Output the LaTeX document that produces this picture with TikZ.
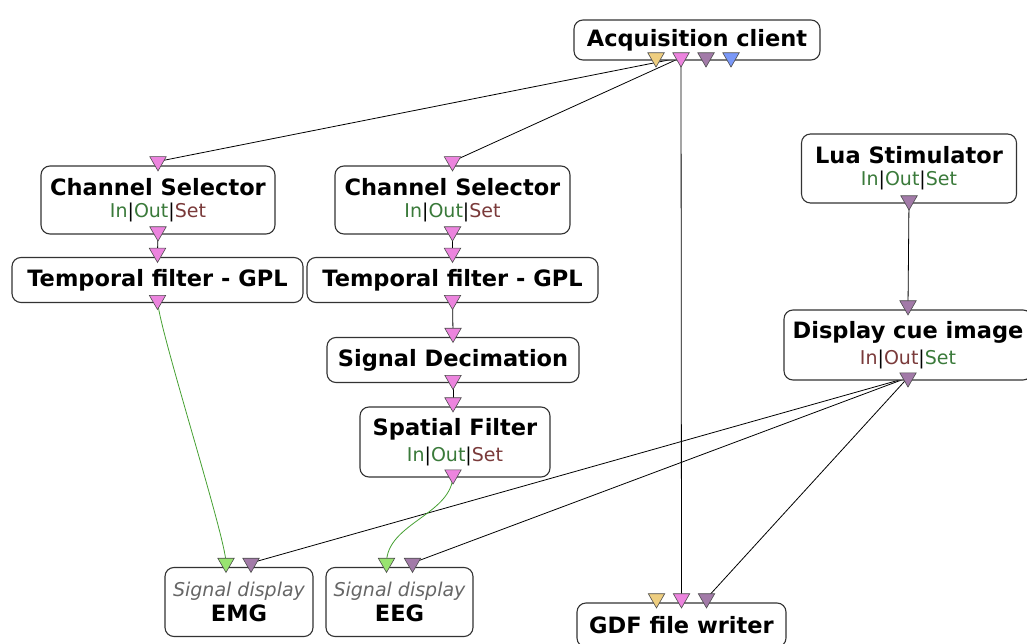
\documentclass[tikz,border=0pt]{standalone}
\usepackage{fontspec}
\setmainfont{DejaVu Sans}
\usepackage{xcolor}
\usetikzlibrary{shapes.geometric,positioning,backgrounds}

\definecolor{portpink}{RGB}{236,132,222}
\definecolor{portpurple}{RGB}{162,122,168}
\definecolor{portyellow}{RGB}{238,206,128}
\definecolor{portblue}{RGB}{122,152,248}
\definecolor{portgreen}{RGB}{152,228,112}
\definecolor{iogreen}{RGB}{58,122,58}
\definecolor{iored}{RGB}{122,58,58}
\definecolor{linkgreen}{RGB}{70,160,50}

\newcommand{\boxtitle}{\fontsize{22.5}{26}\selectfont\bfseries}
\newcommand{\boxsub}{\fontsize{19}{22}\selectfont\mdseries}
\newcommand{\gr}[1]{\textcolor{iogreen}{#1}}
\newcommand{\rd}[1]{\textcolor{iored}{#1}}

\begin{document}
\begin{tikzpicture}[
    x=1pt, y=-1pt,
    boxnode/.style={draw=black!80, line width=1.1pt, fill=white, rounded corners=9pt,
                    align=center, inner sep=0pt},
    portnode/.style={regular polygon, regular polygon sides=3, shape border rotate=180,
                     draw=black!70, line width=0.6pt, fill=#1, minimum size=19pt, inner sep=0pt},
    myedge/.style={black, line width=0.8pt},
    greenedge/.style={linkgreen, line width=0.8pt}
]
\clip (0,0) rectangle (1027,644);

% boxes
\node[boxnode, minimum width=246pt, minimum height=40pt] (acq) at (697,40) {\boxtitle Acquisition client};
\node[boxnode, minimum width=234pt, minimum height=68pt] (cs1) at (158,200) {\boxtitle Channel Selector\\[6pt] \boxsub\gr{In}|\gr{Out}|\rd{Set}};
\node[boxnode, minimum width=291pt, minimum height=45pt] (tf1) at (157.5,280) {\boxtitle Temporal filter - GPL};
\node[boxnode, minimum width=235pt, minimum height=68pt] (cs2) at (452.5,200) {\boxtitle Channel Selector\\[6pt] \boxsub\gr{In}|\gr{Out}|\rd{Set}};
\node[boxnode, minimum width=291pt, minimum height=45pt] (tf2) at (452.5,280) {\boxtitle Temporal filter - GPL};
\node[boxnode, minimum width=252pt, minimum height=45pt] (sd) at (453,360) {\boxtitle Signal Decimation};
\node[boxnode, minimum width=190pt, minimum height=70pt] (sf) at (455,442) {\boxtitle Spatial Filter\\[6pt] \boxsub\gr{In}|\gr{Out}|\rd{Set}};
\node[boxnode, minimum width=215pt, minimum height=69pt] (lua) at (909,168.5) {\boxtitle Lua Stimulator\\[6pt] \boxsub\gr{In}|\gr{Out}|\gr{Set}};
\node[boxnode, minimum width=248pt, minimum height=70pt] (dci) at (908,345) {\boxtitle Display cue image\\[6pt] \boxsub\rd{In}|\rd{Out}|\gr{Set}};
\node[boxnode, minimum width=148pt, minimum height=69pt] (emg) at (239,602) {\boxsub\textcolor{black!60}{\itshape Signal display}\\[3pt] \boxtitle EMG};
\node[boxnode, minimum width=147pt, minimum height=69pt] (eeg) at (399.5,602) {\boxsub\textcolor{black!60}{\itshape Signal display}\\[3pt] \boxtitle EEG};
\node[boxnode, minimum width=209pt, minimum height=44pt] (gdf) at (681.5,625) {\boxtitle GDF file writer};

% ports
\node[portnode=portyellow] (acqo1) at ([xshift=-41pt,yshift=3pt]acq.south) {};
\node[portnode=portpink]   (acqo2) at ([xshift=-16pt,yshift=3pt]acq.south) {};
\node[portnode=portpurple] (acqo3) at ([xshift=9pt,yshift=3pt]acq.south) {};
\node[portnode=portblue]   (acqo4) at ([xshift=34pt,yshift=3pt]acq.south) {};
\node[portnode=portpink] (cs1i) at ([yshift=4pt]cs1.north) {};
\node[portnode=portpink] (cs1o) at ([yshift=3pt]cs1.south) {};
\node[portnode=portpink] (tf1i) at ([yshift=4pt]tf1.north) {};
\node[portnode=portpink] (tf1o) at ([yshift=3pt]tf1.south) {};
\node[portnode=portpink] (cs2i) at ([yshift=4pt]cs2.north) {};
\node[portnode=portpink] (cs2o) at ([yshift=3pt]cs2.south) {};
\node[portnode=portpink] (tf2i) at ([yshift=4pt]tf2.north) {};
\node[portnode=portpink] (tf2o) at ([yshift=3pt]tf2.south) {};
\node[portnode=portpink] (sdi) at ([yshift=4pt]sd.north) {};
\node[portnode=portpink] (sdo) at ([yshift=3pt]sd.south) {};
\node[portnode=portpink] (sfi) at ([xshift=-2pt,yshift=4pt]sf.north) {};
\node[portnode=portpink] (sfo) at ([xshift=-2pt,yshift=3pt]sf.south) {};
\node[portnode=portpurple] (luao) at ([yshift=3pt]lua.south) {};
\node[portnode=portpurple] (dcii) at ([yshift=4pt]dci.north) {};
\node[portnode=portpurple] (dcio) at ([yshift=3pt]dci.south) {};
\node[portnode=portgreen]  (emgi1) at ([xshift=-13pt,yshift=4pt]emg.north) {};
\node[portnode=portpurple] (emgi2) at ([xshift=12pt,yshift=4pt]emg.north) {};
\node[portnode=portgreen]  (eegi1) at ([xshift=-13pt,yshift=4pt]eeg.north) {};
\node[portnode=portpurple] (eegi2) at ([xshift=13pt,yshift=4pt]eeg.north) {};
\node[portnode=portyellow] (gdfi1) at ([xshift=-25pt,yshift=4pt]gdf.north) {};
\node[portnode=portpink]   (gdfi2) at ([yshift=4pt]gdf.north) {};
\node[portnode=portpurple] (gdfi3) at ([xshift=25pt,yshift=4pt]gdf.north) {};

% links
\begin{scope}[on background layer]
\draw[myedge] (acqo2.center) -- (cs1i.center);
\draw[myedge] (acqo2.center) -- (cs2i.center);
\draw[myedge] (acqo2.center) -- (gdfi2.center);
\draw[myedge] (cs1o.center) -- (tf1i.center);
\draw[myedge] (cs2o.center) -- (tf2i.center);
\draw[myedge] (tf2o.center) -- (sdi.center);
\draw[myedge] (sdo.center) -- (sfi.center);
\draw[myedge] (luao.center) -- (dcii.center);
\draw[myedge] (dcio.center) -- (emgi2.center);
\draw[myedge] (dcio.center) -- (eegi2.center);
\draw[myedge] (dcio.center) -- (gdfi3.center);
\draw[greenedge] (tf1o.center) .. controls ([yshift=-25pt]tf1o.center) and ([yshift=25pt]emgi1.center) .. (emgi1.center);
\draw[greenedge] (sfo.center) .. controls ([yshift=-40pt]sfo.center) and ([yshift=40pt]eegi1.center) .. (eegi1.center);
\end{scope}
\end{tikzpicture}
\end{document}
